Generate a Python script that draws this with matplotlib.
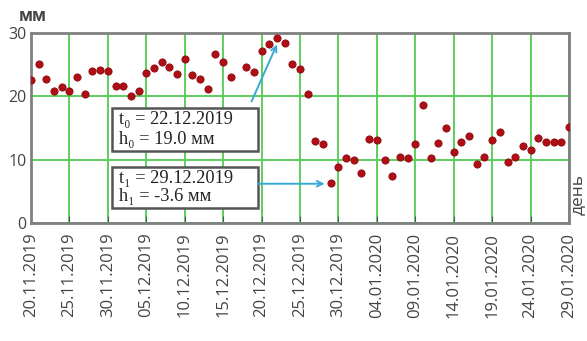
import numpy as np
import pandas as pd
import matplotlib
matplotlib.use("Agg")
import matplotlib.pyplot as plt
import matplotlib.dates as mdates
from matplotlib.patches import Rectangle

# ---- data ----
start_date = "2019-11-20"
heights = [22.6, 25.1, 22.8, 20.8, 21.4, 20.8, 23.0, 20.3, 24.0, 24.2,
           24.0, 21.7, 21.7, 20.1, 20.9, 23.7, 24.5, 25.5, 24.7, 23.5,
           25.9, 23.3, 22.8, 21.2, 26.7, 25.4, 23.0, np.nan, 24.6, 23.9,
           27.2, 28.2, 29.2, 28.4, 25.1, 24.3, 20.4, 13.0, 12.5, 6.3,
           8.9, 10.2, 10.0, 7.9, 13.3, 13.1, 10.0, 7.5, 10.4, 10.3,
           12.4, 18.6, 10.3, 12.6, 15.0, 11.2, 12.8, 13.7, 9.3, 10.4,
           13.1, 14.4, 9.7, 10.4, 12.2, 11.5, 13.5, 12.8, 12.8, 12.8,
           15.2]
tick_labels = ["20.11.2019", "25.11.2019", "30.11.2019", "05.12.2019",
               "10.12.2019", "15.12.2019", "20.12.2019", "25.12.2019",
               "30.12.2019", "04.01.2020", "09.01.2020", "14.01.2020",
               "19.01.2020", "24.01.2020", "29.01.2020"]
y_ticks = [0, 10, 20, 30]
ann0 = ["t\u2080 = 22.12.2019", "h\u2080 = 19.0 мм"]
ann1 = ["t\u2081 = 29.12.2019", "h\u2081 = -3.6 мм"]

dates = pd.date_range(start_date, periods=len(heights), freq="D")
tick_dates = pd.to_datetime(tick_labels, format="%d.%m.%Y")

# ---- figure ----
W, H = 587, 341
fig = plt.figure(figsize=(W / 100, H / 100), dpi=100)
ax = fig.add_axes([31 / W, 1 - 223 / H, (569 - 31) / W, (223 - 33) / H])

green = "#5ccf5c"
sans = ["Open Sans", "DejaVu Sans"]
ax.set_xlim(dates[0], dates[-1])
ax.set_ylim(0, 30)
ax.set_xticks(tick_dates)
ax.set_xticklabels(tick_labels, rotation=90, fontsize=12, color="#444444",
                   family=sans)
ax.set_yticks(y_ticks)
ax.set_yticklabels([str(v) for v in y_ticks], fontsize=11.5, color="#444444",
                   family=sans)
ax.tick_params(axis="x", direction="in", length=5, color="#555555", pad=7)
ax.tick_params(axis="y", length=0, pad=3)
ax.grid(True, color=green, linewidth=1.4)
ax.set_axisbelow(True)
for s in ax.spines.values():
    s.set_color("#808080")
    s.set_linewidth(2)

ax.plot(dates, heights, linestyle="none", marker="o", markersize=5.2,
        markerfacecolor="#b10d15", markeredgecolor="#8a0a10", markeredgewidth=0.6,
        zorder=3)

# ---- annotations ----
def day(d):
    return mdates.date2num(dates[0]) + d

serif = ["Liberation Serif", "DejaVu Serif"]
box_col = "#555555"
for (y0, y1), lines in [((11.3, 18.2), ann0), ((2.4, 8.9), ann1)]:
    ax.add_patch(Rectangle((day(10.5), y0), 19.0, y1 - y0, facecolor="white",
                           edgecolor=box_col, linewidth=1.8, zorder=4))
    h = y1 - y0
    ax.text(day(11.5), y1 - h * 0.28, lines[0], fontsize=13.2, family=serif,
            color="#222222", va="center", ha="left", zorder=5)
    ax.text(day(11.5), y0 + h * 0.27, lines[1], fontsize=13.2, family=serif,
            color="#222222", va="center", ha="left", zorder=5)

arrow_col = "#39a9d6"
ax.annotate("", xy=(day(32.0), 28.2), xytext=(day(28.7), 19.2),
            arrowprops=dict(arrowstyle="->", color=arrow_col, lw=1.4,
                            shrinkA=0, shrinkB=0), zorder=5)
ax.annotate("", xy=(day(38.2), 6.2), xytext=(day(29.5), 6.2),
            arrowprops=dict(arrowstyle="->", color=arrow_col, lw=1.4,
                            shrinkA=0, shrinkB=0), zorder=5)

fig.text(33 / W, 1 - 16 / H, "мм", fontsize=12, color="#444444",
         fontweight="bold", ha="center", va="center", family=sans)
fig.text(578 / W, 1 - 194 / H, "день", fontsize=12.5, color="#444444",
         rotation=90, ha="center", va="center", family=sans)

fig.savefig("out.png", dpi=100)
